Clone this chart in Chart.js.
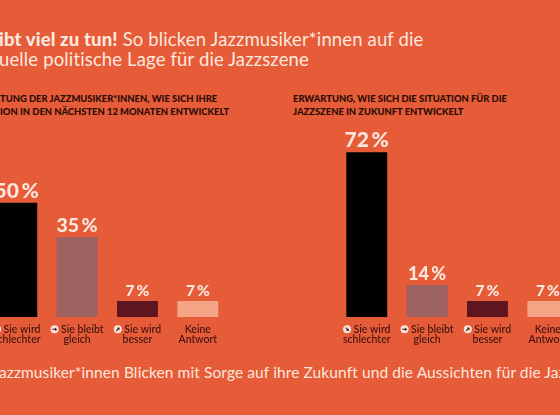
<!DOCTYPE html>
<html>
<head>
<meta charset="utf-8">
<script src="https://cdn.jsdelivr.net/npm/chart.js@4.4.1/dist/chart.umd.min.js"></script>
<style>
  html, body { margin:0; padding:0; }
  body { width:560px; height:415px; overflow:hidden; position:relative; background:#E65B38; font-family:Lato, sans-serif; }
  .t { position:absolute; white-space:nowrap; }
  #title { left:-1px; top:30px; color:#FCE8DE; font-size:18.5px; line-height:19.5px; font-weight:400; letter-spacing:0.14px; }
  #title b { font-weight:900; }
  .sub { color:#2A0B06; font-size:9.4px; font-weight:900; line-height:13px; }
  #caption { left:-1px; top:363px; color:#FCE8DE; font-size:15.5px; letter-spacing:0.1px; }
  canvas { position:absolute; }
</style>
</head>
<body>
<div class="t" id="title"><b>ibt viel zu tun!</b> So blicken Jazzmusiker*innen auf die<br>uelle politische Lage für die Jazzszene</div>
<div class="t sub" style="left:0px; top:92px;">TUNG DER JAZZMUSIKER*INNEN, WIE SICH IHRE<br>ION IN DEN NÄCHSTEN 12 MONATEN ENTWICKELT</div>
<div class="t sub" style="left:293px; top:92px;">ERWARTUNG, WIE SICH DIE SITUATION FÜR DIE<br>JAZZSZENE IN ZUKUNFT ENTWICKELT</div>
<div class="t" id="caption">azzmusiker*innen Blicken mit Sorge auf ihre Zukunft und die Aussichten für die Jazzszene</div>
<div style="position:absolute; left:-13.75px; top:100px; width:242px; height:257px;"><canvas id="c1"></canvas></div>
<div style="position:absolute; left:335.75px; top:100px; width:242px; height:257px;"><canvas id="c2"></canvas></div>
<script>
// ---- data ----
const categories = [['Sie wird', 'schlechter'], ['Sie bleibt', 'gleich'], ['Sie wird', 'besser'], ['Keine', 'Antwort']];
const categoryIcons = ['down', 'right', 'up', null];
const personalValues = [50, 35, 7, 7];
const sceneValues = [72, 14, 7, 7];
const yMax = 80;

// ---- styles ----
const barColors = ['#000000', '#9D6261', '#5E1520', '#F5A586'];
const labelColor = '#FCE6DC';
const tickColor = '#3A120E';
const tickSize = 10.5;
function valueFontSize(v) { return v >= 50 ? 21 : v >= 30 ? 19.5 : v >= 10 ? 18 : 15.5; }

const iconPlugin = {
  id: 'iconsAndValues',
  afterDatasetsDraw(chart) {
    const ctx = chart.ctx;
    const meta = chart.getDatasetMeta(0);
    const data = chart.data.datasets[0].data;
    ctx.save();
    ctx.textAlign = 'center';
    ctx.textBaseline = 'alphabetic';
    ctx.fillStyle = labelColor;
    meta.data.forEach((bar, i) => {
      const v = data[i];
      ctx.font = '900 ' + valueFontSize(v) + 'px Lato';
      ctx.fillText(v + '\u2009%', bar.x, bar.y - 5);
    });
    // icons
    const xs = chart.scales.x;
    ctx.font = '500 ' + tickSize + 'px Lato';
    chart.data.labels.forEach((lab, i) => {
      const kind = categoryIcons[i];
      if (!kind) return;
      const line = '\u2002\u2002' + lab[0];
      const w = ctx.measureText(line).width;
      const cx = xs.getPixelForTick(i) - w / 2 + 4;
      const cy = xs.top + 7 + tickSize / 2;
      ctx.beginPath();
      ctx.fillStyle = '#FBE4DA';
      ctx.arc(cx, cy, 4, 0, Math.PI * 2);
      ctx.fill();
      ctx.strokeStyle = '#3A120E';
      ctx.fillStyle = '#3A120E';
      ctx.lineWidth = 1;
      let ang = kind === 'down' ? Math.PI / 4 : kind === 'up' ? -Math.PI / 4 : 0;
      ctx.translate(cx, cy);
      ctx.rotate(ang);
      ctx.beginPath();
      ctx.moveTo(-2.2, 0); ctx.lineTo(1, 0); ctx.stroke();
      ctx.beginPath();
      ctx.moveTo(2.6, 0); ctx.lineTo(0.4, -1.8); ctx.lineTo(0.4, 1.8); ctx.closePath(); ctx.fill();
      ctx.setTransform(1, 0, 0, 1, 0, 0);
      ctx.scale(chart.currentDevicePixelRatio, chart.currentDevicePixelRatio);
    });
    ctx.restore();
  }
};

function makeChart(id, values) {
  return new Chart(document.getElementById(id), {
    type: 'bar',
    data: {
      labels: categories,
      datasets: [{ data: values, backgroundColor: barColors, borderWidth: 0,
                   categoryPercentage: 1, barPercentage: 41 / 60.5 }]
    },
    options: {
      responsive: true, maintainAspectRatio: false, animation: false,
      layout: { padding: { top: 34, left: 0, right: 0, bottom: 0 } },
      plugins: { legend: { display: false }, tooltip: { enabled: false } },
      scales: {
        y: { display: false, min: 0, max: yMax },
        x: {
          grid: { display: false, drawTicks: false }, border: { display: false },
          afterFit: s => { s.height = 40; },
          ticks: {
            padding: 7, color: tickColor, maxRotation: 0, autoSkip: false,
            font: { family: 'Lato', size: tickSize, weight: '500', lineHeight: 0.98 },
            callback: function (val, i) {
              const lab = categories[i];
              return categoryIcons[i] ? ['\u2002\u2002' + lab[0], lab[1]] : lab;
            }
          }
        }
      }
    },
    plugins: [iconPlugin]
  });
}
makeChart('c1', personalValues);
makeChart('c2', sceneValues);
</script>
</body>
</html>
